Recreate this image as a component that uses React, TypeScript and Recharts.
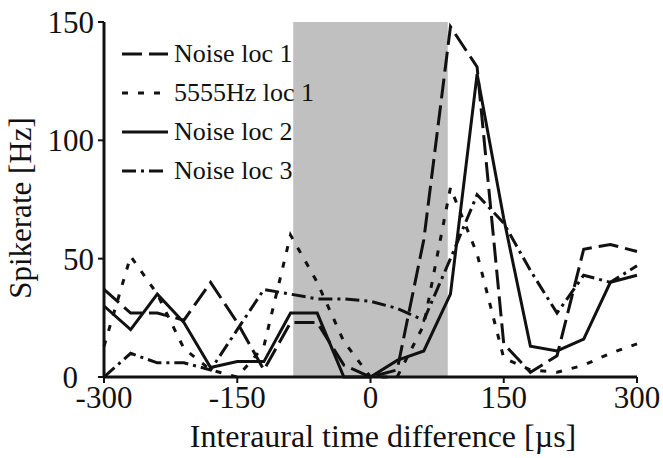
import React from 'react';
import { LineChart, Line, XAxis, YAxis, ReferenceArea } from 'recharts';

// interaural time difference in microseconds, one point every 30 µs
const itd = [-300, -270, -240, -210, -180, -150, -120, -90, -60, -30, 0, 30, 60, 90, 120, 150, 180, 210, 240, 270, 300];

// spike rates in Hz
const noiseLoc1 = [37, 27, 27, 24, 40, 23, 3, 23, 23, 5, 0, 3, 58, 148, 131, 14, 2, 9, 54, 56, 53];
const tone5555Loc1 = [13, 51, 35, 12, 3, 0, 13, 60, 40, 15, 0, 0, 22, 80, 52, 8, 3, 2, 5, 10, 14];
const noiseLoc2 = [30, 20, 35, 23, 4, 6.5, 6.5, 27, 27, 0, 0, 7, 11, 35, 128, 67, 13, 11, 16, 40, 43];
const noiseLoc3 = [0, 10, 6, 6, 3, 20, 37, 35, 33, 33, 32, 29, 24, 50, 77, 65, 45, 27, 43, 40, 47];

const seriesNames = ['Noise loc 1', '5555Hz loc 1', 'Noise loc 2', 'Noise loc 3'];
const xTicks = [-300, -150, 0, 150, 300];
const yTicks = [0, 50, 100, 150];
const shadedRange = [-87, 87];

const data = itd.map((x, i) => ({
  itd: x,
  loc1: noiseLoc1[i],
  tone: tone5555Loc1[i],
  loc2: noiseLoc2[i],
  loc3: noiseLoc3[i],
}));

const FONT = '"Liberation Serif", "Times New Roman", serif';
const INK = '#111';

const lineStyles = [
  { key: 'loc1', dash: '20 7' },
  { key: 'tone', dash: '6 10' },
  { key: 'loc2', dash: undefined },
  { key: 'loc3', dash: '14 5 3 5' },
];

const LegendBox: React.FC = () => (
  <div style={{ position: 'absolute', left: 120, top: 34, fontFamily: FONT, fontSize: 26, color: INK }}>
    {seriesNames.map((name, i) => (
      <div key={name} style={{ display: 'flex', alignItems: 'center', height: 39 }}>
        <svg width={50} height={10} style={{ marginRight: 4 }}>
          <line x1={2} y1={5} x2={48} y2={5} stroke={INK} strokeWidth={3} strokeDasharray={lineStyles[i].dash} />
        </svg>
        <span style={{ lineHeight: '26px' }}>{name}</span>
      </div>
    ))}
  </div>
);

// the "0" on the y axis sits a little left so it clears "-300"
const YTick = (props: any) => {
  const { x, y, payload } = props;
  const shift = payload.value === 0 ? 16 : 0;
  return (
    <text x={x - shift} y={y} dy="0.355em" textAnchor="end" fill={INK} fontSize={31} fontFamily={FONT}>
      {payload.value}
    </text>
  );
};

const App: React.FC = () => {
  return (
    <div style={{ position: 'absolute', left: 0, top: 0, width: 663, height: 458, background: '#fff' }}>
      <LineChart width={663} height={458} data={data} margin={{ top: 22, right: 26, left: 0, bottom: 0 }}>
        <ReferenceArea
          x1={shadedRange[0]}
          x2={shadedRange[1]}
          y1={0}
          y2={150}
          fill="#c0c0c0"
          fillOpacity={1}
          stroke="none"
        />
        <XAxis
          type="number"
          dataKey="itd"
          domain={[-300, 300]}
          ticks={xTicks}
          height={81}
          tickSize={6}
          tickMargin={3}
          axisLine={{ stroke: INK, strokeWidth: 3 }}
          tickLine={{ stroke: INK, strokeWidth: 2 }}
          tick={{ fill: INK, fontSize: 31, fontFamily: FONT }}
          label={{
            content: () => (
              <text x={383} y={447} textAnchor="middle" fill={INK} fontSize={32} fontFamily={FONT}>
                Interaural time difference [µs]
              </text>
            ),
          }}
        />
        <YAxis
          type="number"
          domain={[0, 150]}
          ticks={yTicks}
          width={104}
          tickSize={6}
          tickMargin={4}
          axisLine={{ stroke: INK, strokeWidth: 3 }}
          tickLine={{ stroke: INK, strokeWidth: 2 }}
          tick={<YTick />}
          label={{
            content: () => (
              <text
                x={20}
                y={208}
                transform="rotate(-90 20 208)"
                textAnchor="middle"
                dominantBaseline="central"
                fill={INK}
                fontSize={31}
                fontFamily={FONT}
              >
                Spikerate [Hz]
              </text>
            ),
          }}
        />
        {lineStyles.map((s) => (
          <Line
            key={s.key}
            type="linear"
            dataKey={s.key}
            stroke={INK}
            strokeWidth={3}
            strokeDasharray={s.dash}
            dot={false}
            activeDot={false}
            isAnimationActive={false}
          />
        ))}
      </LineChart>
      <LegendBox />
    </div>
  );
};

export default App;
